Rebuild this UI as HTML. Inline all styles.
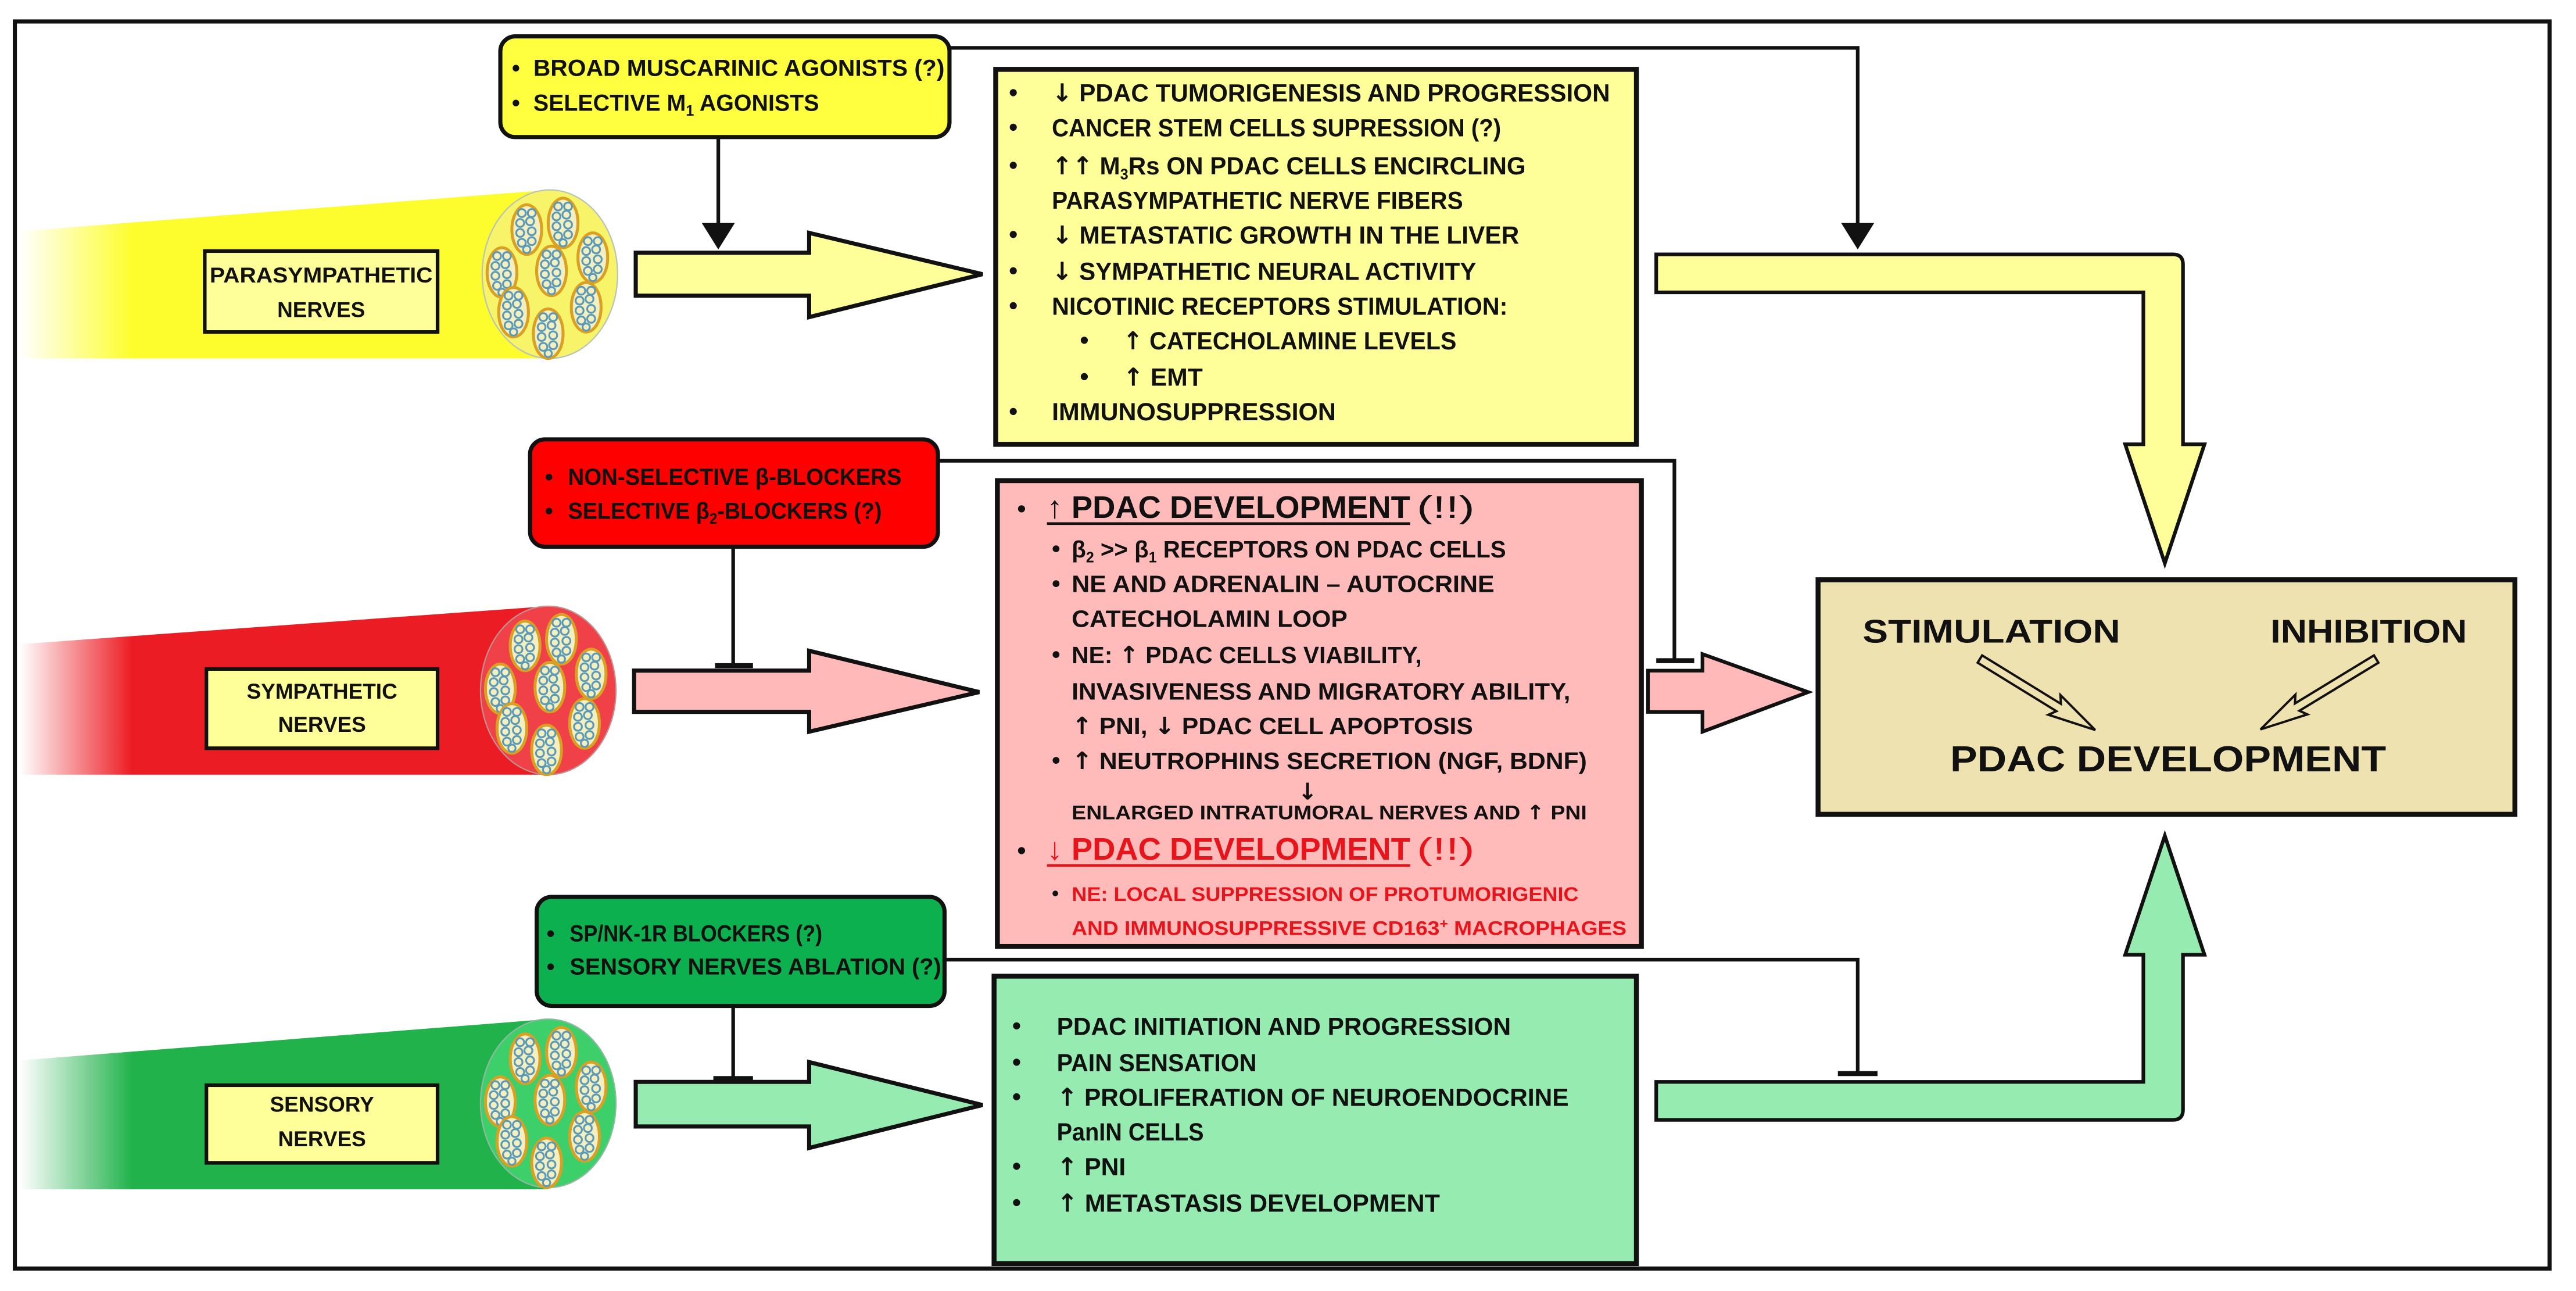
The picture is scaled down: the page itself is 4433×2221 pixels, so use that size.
<!DOCTYPE html>
<html><head><meta charset="utf-8"><style>
html,body{margin:0;padding:0;background:#fff;}
svg{display:block;}
.t{font-family:"Liberation Sans Narrow","Liberation Sans",sans-serif;font-weight:bold;fill:#111;}
.w{font-family:"Liberation Sans",sans-serif;font-weight:bold;fill:#111;}
.a{font-family:"DejaVu Sans",sans-serif;font-weight:bold;}
</style></head><body>
<svg width="4433" height="2221" viewBox="0 0 1560 781.6" preserveAspectRatio="none" xmlns="http://www.w3.org/2000/svg">
<defs>
<linearGradient id="gy" gradientUnits="userSpaceOnUse" x1="12" y1="0" x2="80" y2="0"><stop offset="0" stop-color="#fff"/><stop offset="1" stop-color="#fdfd2e"/></linearGradient>
<linearGradient id="gr" gradientUnits="userSpaceOnUse" x1="12" y1="0" x2="80" y2="0"><stop offset="0" stop-color="#fff"/><stop offset="1" stop-color="#ec1c24"/></linearGradient>
<linearGradient id="gg" gradientUnits="userSpaceOnUse" x1="12" y1="0" x2="80" y2="0"><stop offset="0" stop-color="#fff"/><stop offset="1" stop-color="#22b24c"/></linearGradient>
<g id="fas">
<ellipse cx="0" cy="0" rx="9" ry="15" fill="#f3efc0" stroke="#d9a024" stroke-width="1.8"/>
<g fill="none" stroke="#5a9ab8" stroke-width="1.1">
<circle cx="-3" cy="-10" r="2.4"/><circle cx="3" cy="-10" r="2.4"/>
<circle cx="-4" cy="-4" r="2.4"/><circle cx="2" cy="-5" r="2.4"/>
<circle cx="-4" cy="2" r="2.4"/><circle cx="3" cy="1" r="2.4"/>
<circle cx="-3" cy="8" r="2.4"/><circle cx="3" cy="7" r="2.4"/>
<circle cx="0" cy="12" r="2.2"/>
</g>
</g>
<g id="bundle">
<use href="#fas" x="-14" y="-27"/><use href="#fas" x="8" y="-31"/><use href="#fas" x="26" y="-10"/>
<use href="#fas" x="-29" y="-1"/><use href="#fas" x="1" y="-2"/><use href="#fas" x="-22" y="23"/>
<use href="#fas" x="22" y="20"/><use href="#fas" x="-1" y="36"/>
</g>
</defs>

<rect x="9" y="13" width="1535" height="755" fill="#fff" stroke="#111" stroke-width="2.5"/>

<g stroke="#111" stroke-width="2.2" fill="none">
<polyline points="575,29 1125,29 1125,137"/>
<line x1="435" y1="83" x2="435" y2="137"/>
<polyline points="568,279 1014,279 1014,399"/>
<line x1="1003" y1="400" x2="1026" y2="400" stroke-width="3"/>
<line x1="444" y1="331" x2="444" y2="402"/>
<line x1="433" y1="403" x2="456" y2="403" stroke-width="3"/>
<polyline points="572,581 1125,581 1125,649"/>
<line x1="1113" y1="650" x2="1137" y2="650" stroke-width="3"/>
<line x1="444" y1="609" x2="444" y2="652"/>
<line x1="432" y1="653" x2="456" y2="653" stroke-width="3"/>
</g>
<polygon points="1115,135 1135,135 1125,151" fill="#111"/>
<polygon points="425,135 445,135 435,151" fill="#111"/>

<polygon points="12,140 333,115 333,217 12,217" fill="url(#gy)"/>
<ellipse cx="333" cy="166" rx="41" ry="51" fill="#f8f46a" stroke="#b9c4b8" stroke-width="0.8"/>
<use href="#bundle" x="333" y="166"/>
<rect x="124" y="152" width="141" height="49" fill="#ffff99" stroke="#111" stroke-width="2.2"/>
<text class="t" x="194.5" y="171" font-size="13" text-anchor="middle" textLength="135" lengthAdjust="spacingAndGlyphs">PARASYMPATHETIC</text>
<text class="t" x="194.5" y="192" font-size="13" text-anchor="middle">NERVES</text>

<polygon points="12,390 332,367 332,469 12,469" fill="url(#gr)"/>
<ellipse cx="332" cy="418" rx="41" ry="51" fill="#f04048" stroke="#c09090" stroke-width="0.8"/>
<use href="#bundle" x="332" y="418"/>
<rect x="125" y="405" width="140" height="48" fill="#ffff99" stroke="#111" stroke-width="2.2"/>
<text class="t" x="195" y="423" font-size="13" text-anchor="middle">SYMPATHETIC</text>
<text class="t" x="195" y="443" font-size="13" text-anchor="middle">NERVES</text>

<polygon points="12,642 332,617 332,720 12,720" fill="url(#gg)"/>
<ellipse cx="332" cy="668" rx="41" ry="51" fill="#3ccf6a" stroke="#90b8a0" stroke-width="0.8"/>
<use href="#bundle" x="332" y="668"/>
<rect x="125" y="657" width="140" height="47" fill="#ffff99" stroke="#111" stroke-width="2.2"/>
<text class="t" x="195" y="673" font-size="13" text-anchor="middle">SENSORY</text>
<text class="t" x="195" y="694" font-size="13" text-anchor="middle">NERVES</text>

<path d="M385,153 H490 V141 L595,166 L490,192 V179 H385 Z" fill="#ffff99" stroke="#111" stroke-width="2.5"/>
<path d="M384,406 H490 V394 L593,419 L490,443 V431 H384 Z" fill="#ffb9b9" stroke="#111" stroke-width="2.5"/>
<path d="M385,655 H490 V643 L595,669 L490,695 V682 H385 Z" fill="#95ebb0" stroke="#111" stroke-width="2.5"/>

<rect x="303" y="22" width="272" height="61" rx="9" fill="#ffff40" stroke="#111" stroke-width="2.5"/>
<text class="t" x="310" y="46" font-size="14">•</text>
<text class="t" x="323" y="46" font-size="14" textLength="249" lengthAdjust="spacingAndGlyphs">BROAD MUSCARINIC AGONISTS (?)</text>
<text class="t" x="310" y="67" font-size="14">•</text>
<text class="t" x="323" y="67" font-size="14" textLength="173" lengthAdjust="spacingAndGlyphs">SELECTIVE M<tspan font-size="9" dy="3">1</tspan><tspan dy="-3"> AGONISTS</tspan></text>

<rect x="321" y="266" width="247" height="65" rx="9" fill="#ff0000" stroke="#111" stroke-width="2.5"/>
<text class="t" x="330" y="293.5" font-size="14">•</text>
<text class="t" x="344" y="293.5" font-size="14" textLength="202" lengthAdjust="spacingAndGlyphs">NON-SELECTIVE β-BLOCKERS</text>
<text class="t" x="330" y="314" font-size="14">•</text>
<text class="t" x="344" y="314" font-size="14" textLength="190" lengthAdjust="spacingAndGlyphs">SELECTIVE β<tspan font-size="9" dy="3">2</tspan><tspan dy="-3">-BLOCKERS (?)</tspan></text>

<rect x="325" y="543" width="247" height="66" rx="9" fill="#0cb04e" stroke="#111" stroke-width="2.5"/>
<text class="t" x="331" y="570" font-size="14">•</text>
<text class="t" x="345" y="570" font-size="14" textLength="153" lengthAdjust="spacingAndGlyphs">SP/NK-1R BLOCKERS (?)</text>
<text class="t" x="331" y="590" font-size="14">•</text>
<text class="t" x="345" y="590" font-size="14" textLength="225" lengthAdjust="spacingAndGlyphs">SENSORY NERVES ABLATION (?)</text>

<rect x="603" y="42" width="388" height="227" fill="#ffff99" stroke="#111" stroke-width="3"/>
<g class="t" font-size="15">
<text x="611" y="61">•</text><text x="637" y="61.5" textLength="338" lengthAdjust="spacingAndGlyphs"><tspan class="a">↓</tspan> PDAC TUMORIGENESIS AND PROGRESSION</text>
<text x="611" y="82">•</text><text x="637" y="82.5" textLength="272" lengthAdjust="spacingAndGlyphs">CANCER STEM CELLS SUPRESSION (?)</text>
<text x="611" y="105">•</text><text x="637" y="105.5" textLength="287" lengthAdjust="spacingAndGlyphs"><tspan class="a">↑↑</tspan> M<tspan font-size="9" dy="3">3</tspan><tspan dy="-3">Rs ON PDAC CELLS ENCIRCLING</tspan></text>
<text x="637" y="126.5" textLength="249" lengthAdjust="spacingAndGlyphs">PARASYMPATHETIC NERVE FIBERS</text>
<text x="611" y="147">•</text><text x="637" y="147.5" textLength="283" lengthAdjust="spacingAndGlyphs"><tspan class="a">↓</tspan> METASTATIC GROWTH IN THE LIVER</text>
<text x="611" y="169">•</text><text x="637" y="169.5" textLength="257" lengthAdjust="spacingAndGlyphs"><tspan class="a">↓</tspan> SYMPATHETIC NEURAL ACTIVITY</text>
<text x="611" y="190">•</text><text x="637" y="190.5" textLength="276" lengthAdjust="spacingAndGlyphs">NICOTINIC RECEPTORS STIMULATION:</text>
<text x="654" y="211">•</text><text x="680" y="211.5" textLength="202" lengthAdjust="spacingAndGlyphs"><tspan class="a">↑</tspan> CATECHOLAMINE LEVELS</text>
<text x="654" y="233">•</text><text x="680" y="233.5"><tspan class="a">↑</tspan> EMT</text>
<text x="611" y="254">•</text><text x="637" y="254.5" textLength="172" lengthAdjust="spacingAndGlyphs">IMMUNOSUPPRESSION</text>
</g>

<rect x="604" y="291" width="390" height="282" fill="#ffbaba" stroke="#111" stroke-width="3"/>
<text class="t" x="616" y="313" font-size="15">•</text>
<text class="w" x="634" y="313.5" font-size="19" textLength="220" lengthAdjust="spacingAndGlyphs">↑ PDAC DEVELOPMENT</text>
<text x="858" y="313.5" font-size="19" font-family="Liberation Sans, sans-serif" fill="#111" textLength="35" lengthAdjust="spacingAndGlyphs">(!!)</text>
<line x1="634" y1="317" x2="854" y2="317" stroke="#111" stroke-width="1.6"/>
<g class="t" font-size="14.5">
<text x="637" y="337">•</text><text x="649" y="337.5" textLength="263" lengthAdjust="spacingAndGlyphs">β<tspan font-size="9" dy="3">2</tspan><tspan dy="-3"> &gt;&gt; β</tspan><tspan font-size="9" dy="3">1</tspan><tspan dy="-3"> RECEPTORS ON PDAC CELLS</tspan></text>
<text x="637" y="358">•</text><text x="649" y="358.5" textLength="256" lengthAdjust="spacingAndGlyphs">NE AND ADRENALIN – AUTOCRINE</text>
<text x="649" y="379.5" textLength="167" lengthAdjust="spacingAndGlyphs">CATECHOLAMIN LOOP</text>
<text x="637" y="401">•</text><text x="649" y="401.5" textLength="212" lengthAdjust="spacingAndGlyphs">NE: <tspan class="a">↑</tspan> PDAC CELLS VIABILITY,</text>
<text x="649" y="423.5" textLength="302" lengthAdjust="spacingAndGlyphs">INVASIVENESS AND MIGRATORY ABILITY,</text>
<text x="649" y="444.5" textLength="243" lengthAdjust="spacingAndGlyphs"><tspan class="a">↑</tspan> PNI, <tspan class="a">↓</tspan> PDAC CELL APOPTOSIS</text>
<text x="637" y="465">•</text><text x="649" y="465.5" textLength="312" lengthAdjust="spacingAndGlyphs"><tspan class="a">↑</tspan> NEUTROPHINS SECRETION (NGF, BDNF)</text>
<text x="786" y="484" font-size="14" class="a">↓</text>
</g>
<text class="t" x="649" y="496" font-size="12" textLength="312" lengthAdjust="spacingAndGlyphs">ENLARGED  INTRATUMORAL  NERVES AND <tspan class="a">↑</tspan> PNI</text>
<text class="t" x="616" y="520" font-size="15">•</text>
<text class="w" x="634" y="520.5" font-size="19" style="fill:#e8141c" textLength="220" lengthAdjust="spacingAndGlyphs">↓ PDAC DEVELOPMENT</text>
<text x="858" y="520.5" font-size="19" font-family="Liberation Sans, sans-serif" fill="#e8141c" textLength="35" lengthAdjust="spacingAndGlyphs">(!!)</text>
<line x1="634" y1="524" x2="854" y2="524" stroke="#e8141c" stroke-width="1.6"/>
<text class="t" x="637" y="545" font-size="12">•</text>
<text class="t" x="649" y="545.5" font-size="12" style="fill:#e8141c" textLength="307" lengthAdjust="spacingAndGlyphs">NE: LOCAL SUPPRESSION OF PROTUMORIGENIC</text>
<text class="t" x="649" y="566" font-size="12" style="fill:#e8141c" textLength="336" lengthAdjust="spacingAndGlyphs">AND IMMUNOSUPPRESSIVE CD163<tspan font-size="8" dy="-4">+</tspan><tspan dy="4"> MACROPHAGES</tspan></text>

<rect x="602" y="591" width="389" height="174" fill="#95ebb0" stroke="#111" stroke-width="3"/>
<g class="t" font-size="15">
<text x="613" y="626">•</text><text x="640" y="626.5" textLength="275" lengthAdjust="spacingAndGlyphs">PDAC INITIATION  AND PROGRESSION</text>
<text x="613" y="648">•</text><text x="640" y="648.5" textLength="121" lengthAdjust="spacingAndGlyphs">PAIN SENSATION</text>
<text x="613" y="669">•</text><text x="640" y="669.5" textLength="310" lengthAdjust="spacingAndGlyphs"><tspan class="a">↑</tspan> PROLIFERATION OF NEUROENDOCRINE</text>
<text x="640" y="690.5" textLength="89" lengthAdjust="spacingAndGlyphs">PanIN CELLS</text>
<text x="613" y="711">•</text><text x="640" y="711.5"><tspan class="a">↑</tspan> PNI</text>
<text x="613" y="733">•</text><text x="640" y="733.5" textLength="232" lengthAdjust="spacingAndGlyphs"><tspan class="a">↑</tspan> METASTASIS   DEVELOPMENT</text>
</g>

<path d="M1003,154 H1316 Q1322,154 1322,160 V269 H1335 L1311,341 L1287,269 H1298 V177 H1003 Z" fill="#ffff99" stroke="#111" stroke-width="2.2"/>
<path d="M998,406 H1031 V396 L1095,419 L1031,443 V431 H998 Z" fill="#ffb9b9" stroke="#111" stroke-width="2.2"/>
<path d="M1003,655 H1298 V578 H1287 L1311,506 L1335,578 H1322 V672 Q1322,678 1316,678 H1003 Z" fill="#95ebb0" stroke="#111" stroke-width="2.2"/>

<rect x="1101" y="351" width="422" height="142" fill="#efe2b1" stroke="#111" stroke-width="3"/>
<text class="w" x="1128" y="389" font-size="20" textLength="156" lengthAdjust="spacingAndGlyphs">STIMULATION</text>
<text class="w" x="1375" y="389" font-size="20" textLength="119" lengthAdjust="spacingAndGlyphs">INHIBITION</text>
<text class="w" x="1181" y="467" font-size="22" textLength="264" lengthAdjust="spacingAndGlyphs">PDAC DEVELOPMENT</text>
<g transform="translate(1199,399) rotate(31.6)">
<polygon points="0,-2.6 56,-2.6 53,-7 82,0 53,7 56,2.6 0,2.6" fill="#efe2b1" stroke="#111" stroke-width="1.4"/>
</g>
<g transform="translate(1439,399) rotate(148.7)">
<polygon points="0,-2.6 56,-2.6 53,-7 82,0 53,7 56,2.6 0,2.6" fill="#efe2b1" stroke="#111" stroke-width="1.4"/>
</g>
</svg>
</body></html>
